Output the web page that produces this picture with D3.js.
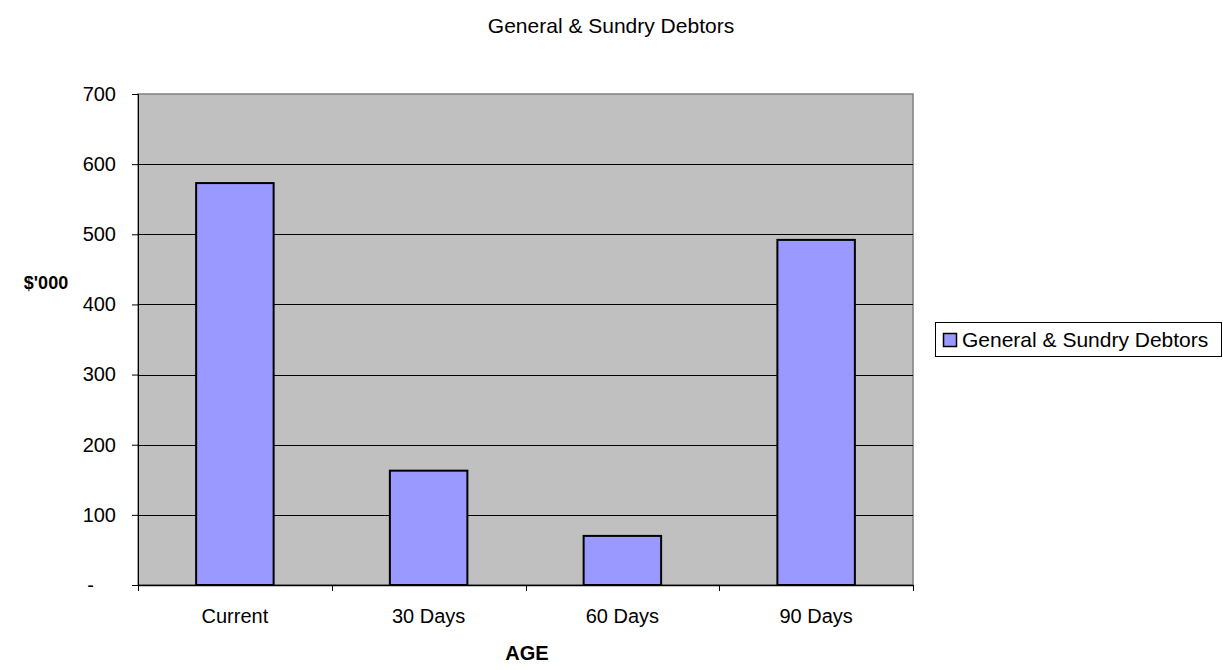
<!DOCTYPE html>
<html>
<head>
<meta charset="utf-8">
<script src="https://cdn.jsdelivr.net/npm/d3@7"></script>
<style>
  html, body { margin: 0; padding: 0; background: #fff; }
  svg { display: block; font-family: "Liberation Sans", Arial, sans-serif; }
</style>
</head>
<body>
<svg id="chart" width="1223" height="670"></svg>
<script>
const categories = ["Current", "30 Days", "60 Days", "90 Days"];
const values = [573, 163, 70, 492];
const yTicks = [0, 100, 200, 300, 400, 500, 600, 700];
const yTickLabels = ["-", "100", "200", "300", "400", "500", "600", "700"];
const seriesName = "General & Sundry Debtors";
const chartTitle = "General & Sundry Debtors";
const xTitle = "AGE";
const yTitle = "$'000";

const svg = d3.select("#chart");
const plot = { left: 138, right: 913, top: 94, bottom: 585 };

const x = d3.scaleBand().domain(categories)
  .range([plot.left, plot.right]).paddingInner(0.6).paddingOuter(0.3);
const y = d3.scaleLinear().domain([0, 700]).range([plot.bottom, plot.top]);

// plot background
svg.append("rect")
  .attr("x", plot.left).attr("y", plot.top)
  .attr("width", plot.right - plot.left).attr("height", plot.bottom - plot.top)
  .attr("fill", "#C0C0C0").attr("stroke", "#808080").attr("stroke-width", 1.5);

// gridlines
svg.append("g").selectAll("line").data(yTicks.filter(d => d > 0 && d < 700)).join("line")
  .attr("x1", plot.left).attr("x2", plot.right)
  .attr("y1", d => Math.round(y(d)) + 0.5).attr("y2", d => Math.round(y(d)) + 0.5)
  .attr("stroke", "#000").attr("stroke-width", 1);

// bars
svg.append("g").selectAll("rect").data(values).join("rect")
  .attr("x", (d, i) => x(categories[i]))
  .attr("y", d => y(d))
  .attr("width", x.bandwidth())
  .attr("height", d => y(0) - y(d))
  .attr("fill", "#9999FF").attr("stroke", "#000").attr("stroke-width", 2);

// y axis
const yAxis = d3.axisLeft(y).tickValues(yTicks)
  .tickFormat((d, i) => yTickLabels[i]).tickSize(6).tickPadding(16);
const gy = svg.append("g").attr("transform", `translate(${plot.left},0)`).call(yAxis);
gy.select(".domain").attr("stroke", "#000").attr("stroke-width", 1);
gy.selectAll(".tick line").attr("stroke", "#000");
gy.selectAll(".tick text").attr("font-size", 20).attr("fill", "#000")
  .attr("font-family", "Liberation Sans, Arial, sans-serif")
  .attr("dx", (d) => d === 0 ? -22 : 0);

// x axis
const xAxis = d3.axisBottom(x).tickSize(0).tickPadding(24);
const gx = svg.append("g").attr("transform", `translate(0,${plot.bottom})`).call(xAxis);
gx.select(".domain").attr("stroke", "#000").attr("stroke-width", 1.5);
gx.selectAll(".tick text").attr("font-size", 20).attr("fill", "#000")
  .attr("font-family", "Liberation Sans, Arial, sans-serif");
// category boundary ticks
const boundaryX = [plot.left].concat(categories.map(c => x(c) + x.bandwidth() + (x.step() - x.bandwidth()) / 2));
svg.append("g").selectAll("line").data(boundaryX).join("line")
  .attr("x1", d => Math.round(d) + 0.5).attr("x2", d => Math.round(d) + 0.5)
  .attr("y1", plot.bottom).attr("y2", plot.bottom + 6)
  .attr("stroke", "#000");

// titles
svg.append("text").attr("x", 611).attr("y", 33).attr("text-anchor", "middle")
  .attr("font-size", 21).text(chartTitle);
svg.append("text").attr("x", 527).attr("y", 660).attr("text-anchor", "middle")
  .attr("font-size", 20).attr("font-weight", "bold").text(xTitle);
svg.append("text").attr("x", 46).attr("y", 289).attr("text-anchor", "middle")
  .attr("font-size", 18).attr("font-weight", "bold").text(yTitle);

// legend
const lg = svg.append("g");
lg.append("rect").attr("x", 935.5).attr("y", 322.5).attr("width", 286).attr("height", 34)
  .attr("fill", "#fff").attr("stroke", "#000").attr("stroke-width", 1);
lg.append("rect").attr("x", 943.5).attr("y", 333.5).attr("width", 13).attr("height", 13)
  .attr("fill", "#9999FF").attr("stroke", "#000").attr("stroke-width", 1.5);
lg.append("text").attr("x", 962).attr("y", 347).attr("font-size", 21).text(seriesName);
</script>
</body>
</html>
